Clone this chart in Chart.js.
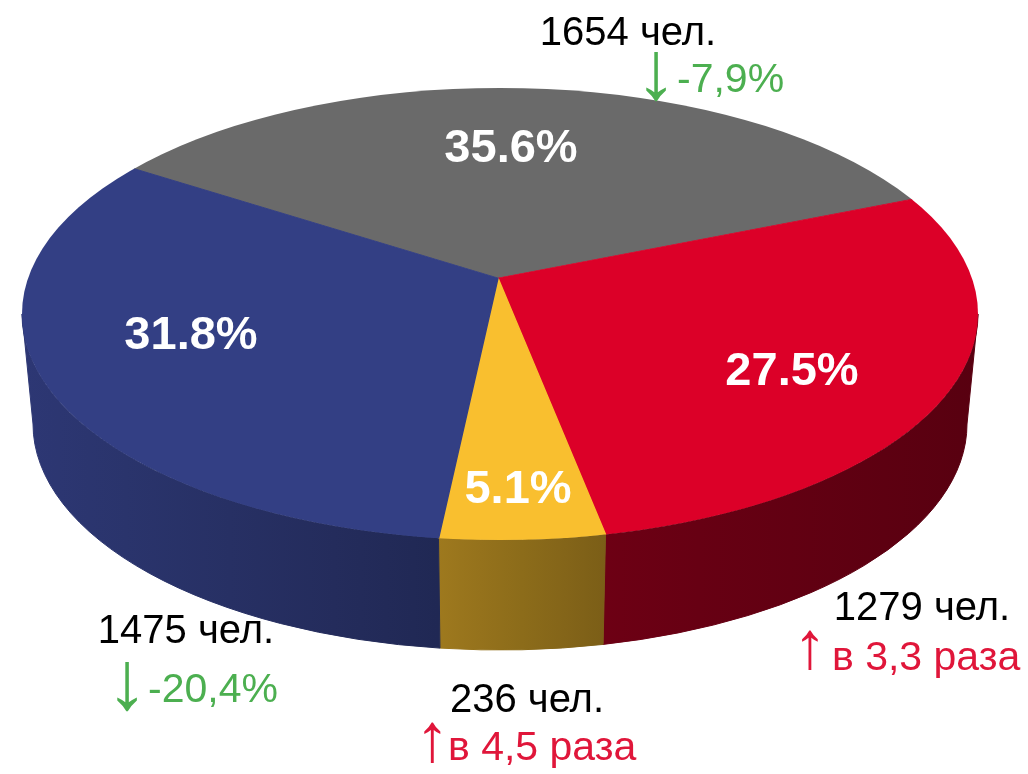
<!DOCTYPE html>
<html>
<head>
<meta charset="utf-8">
<script src="https://cdn.jsdelivr.net/npm/chart.js@4"></script>
<style>
  html, body { margin: 0; padding: 0; background: #fff; }
  #pie { display: block; }
</style>
</head>
<body>
<canvas id="pie" width="1028" height="774"></canvas>
<script>
// shares of the whole (%), people count and change vs previous period
const shares = [35.6, 27.5, 5.1, 31.8];
const headcounts = [1654, 1279, 236, 1475];
const changes = ["-7,9%", "в 3,3 раза", "в 4,5 раза", "-20,4%"];
const changeUp = [false, true, true, false];

const sliceColors = ["#6a6a6a", "#dc0028", "#f9bf2f", "#333f84"];
const GREEN = "#4caf50";
const RED = "#e0163a";
const FONT = "'Liberation Sans', Arial, sans-serif";

// top face ellipse, bottom edge ellipse, and the (perspective) apex of the slices
const top3d = { x: 500, y: 314, rx: 478, ry: 226 };
const bot3d = { x: 500, y: 424, rx: 467, ry: 226 };
const apex = { x: 498, y: 278, sx: 600, sy: 300 };

// where the texts sit
const pctPos = [[511, 162], [792, 385], [518, 503], [191, 349]];
const countPos = [[628, 45], [922, 620], [527, 712], [186, 643]];
// arrow: center x, top y, bottom y ; change text: left x, baseline
const arrowPos = [[656, 52, 102], [810, 630, 670], [432, 722, 763], [127, 662, 712]];
const changePos = [[677, 92], [832, 670], [448, 760], [148, 702]];

function rgb(hex) {
  const n = parseInt(hex.slice(1), 16);
  return [(n >> 16) & 255, (n >> 8) & 255, n & 255];
}
// how dark the side wall is, lit from the left
function shade(x) {
  const pts = [[22, 0.88], [430, 0.64], [610, 0.49], [978, 0.40]];
  if (x <= pts[0][0]) return pts[0][1];
  for (let i = 1; i < pts.length; i++) {
    if (x <= pts[i][0]) {
      const t = (x - pts[i - 1][0]) / (pts[i][0] - pts[i - 1][0]);
      return pts[i - 1][1] + t * (pts[i][1] - pts[i - 1][1]);
    }
  }
  return pts[pts.length - 1][1];
}

// slice edge at pie angle theta -> parameter angle on the top ellipse
function edgeAngle(theta) {
  const dx = apex.sx * Math.cos(theta) / top3d.rx, dy = apex.sy * Math.sin(theta) / top3d.ry;
  const a0 = (apex.x - top3d.x) / top3d.rx, b0 = (apex.y - top3d.y) / top3d.ry;
  const A = dx * dx + dy * dy, B = 2 * (a0 * dx + b0 * dy), C = a0 * a0 + b0 * b0 - 1;
  const t = (-B + Math.sqrt(B * B - 4 * A * C)) / (2 * A);
  return Math.atan2(b0 + t * dy, a0 + t * dx);
}

function drawWall(ctx, a, b, color) {
  const x1 = top3d.x + top3d.rx * Math.cos(b);
  const x0 = top3d.x + top3d.rx * Math.cos(a);
  const left = Math.min(x0, x1), right = Math.max(x0, x1);
  const g = ctx.createLinearGradient(left, 0, right + 0.01, 0);
  const c = rgb(color);
  for (let s = 0; s <= 4; s++) {
    const f = shade(left + (right - left) * s / 4);
    g.addColorStop(s / 4, `rgb(${Math.round(c[0] * f)},${Math.round(c[1] * f)},${Math.round(c[2] * f)})`);
  }
  ctx.beginPath();
  ctx.ellipse(top3d.x, top3d.y, top3d.rx, top3d.ry, 0, a, b);
  ctx.lineTo(bot3d.x + bot3d.rx * Math.cos(b), bot3d.y + bot3d.ry * Math.sin(b));
  ctx.ellipse(bot3d.x, bot3d.y, bot3d.rx, bot3d.ry, 0, b, a, true);
  ctx.closePath();
  ctx.fillStyle = g;
  ctx.fill();
  ctx.strokeStyle = g;
  ctx.lineWidth = 1;
  ctx.stroke();
}

function drawArrow(ctx, up, cx, y0, y1, color) {
  const ch = up ? "↑" : "↓";
  ctx.font = "100px " + FONT;
  const m = ctx.measureText(ch);
  const h = m.actualBoundingBoxAscent + m.actualBoundingBoxDescent;
  const size = 100 * (y1 - y0) / h;
  ctx.font = size + "px " + FONT;
  const m2 = ctx.measureText(ch);
  ctx.textAlign = "center";
  ctx.fillStyle = color;
  ctx.fillText(ch, cx, y0 + m2.actualBoundingBoxAscent);
}

const pie3d = {
  id: "pie3d",
  beforeDatasetsDraw(chart) {
    const ctx = chart.ctx;
    const arcs = chart.getDatasetMeta(0).data;
    // side walls: only the front half (0..PI) of the ellipse is visible
    arcs.forEach((arc, i) => {
      const s = edgeAngle(arc.startAngle);
      let e = edgeAngle(arc.endAngle);
      while (e <= s) e += 2 * Math.PI;
      for (let k = -2; k <= 2; k++) {
        const a = Math.max(s + k * 2 * Math.PI, 0);
        const b = Math.min(e + k * 2 * Math.PI, Math.PI);
        if (b > a) drawWall(ctx, a, b, sliceColors[i]);
      }
    });
    // top face: pie flattened around the apex, cut to the ellipse
    const { x, y, outerRadius: r } = arcs[0];
    ctx.save();
    ctx.beginPath();
    ctx.ellipse(top3d.x, top3d.y, top3d.rx, top3d.ry, 0, 0, 2 * Math.PI);
    ctx.clip();
    ctx.translate(apex.x, apex.y);
    ctx.scale(apex.sx / r, apex.sy / r);
    ctx.translate(-x, -y);
  },
  afterDatasetsDraw(chart) {
    const ctx = chart.ctx;
    ctx.restore();
    ctx.save();
    ctx.textBaseline = "alphabetic";
    shares.forEach((v, i) => {
      ctx.font = "bold 47px " + FONT;
      ctx.fillStyle = "#fff";
      ctx.textAlign = "center";
      ctx.fillText(v.toFixed(1) + "%", pctPos[i][0], pctPos[i][1]);

      ctx.font = "40px " + FONT;
      ctx.fillStyle = "#000";
      ctx.fillText(headcounts[i] + " чел.", countPos[i][0], countPos[i][1]);

      const col = changeUp[i] ? RED : GREEN;
      drawArrow(ctx, changeUp[i], arrowPos[i][0], arrowPos[i][1], arrowPos[i][2], col);
      ctx.font = "41px " + FONT;
      ctx.fillStyle = col;
      ctx.textAlign = "left";
      ctx.fillText(changes[i], changePos[i][0], changePos[i][1]);
    });
    ctx.restore();
  }
};

new Chart(document.getElementById("pie"), {
  type: "pie",
  data: {
    labels: headcounts.map(n => n + " чел."),
    datasets: [{
      data: shares,
      backgroundColor: sliceColors,
      borderColor: sliceColors,
      borderWidth: 1,
      clip: false
    }]
  },
  options: {
    responsive: false,
    animation: false,
    devicePixelRatio: 1,
    rotation: -59,
    layout: { padding: 0 },
    plugins: {
      legend: { display: false },
      tooltip: { enabled: false }
    }
  },
  plugins: [pie3d]
});
</script>
</body>
</html>
